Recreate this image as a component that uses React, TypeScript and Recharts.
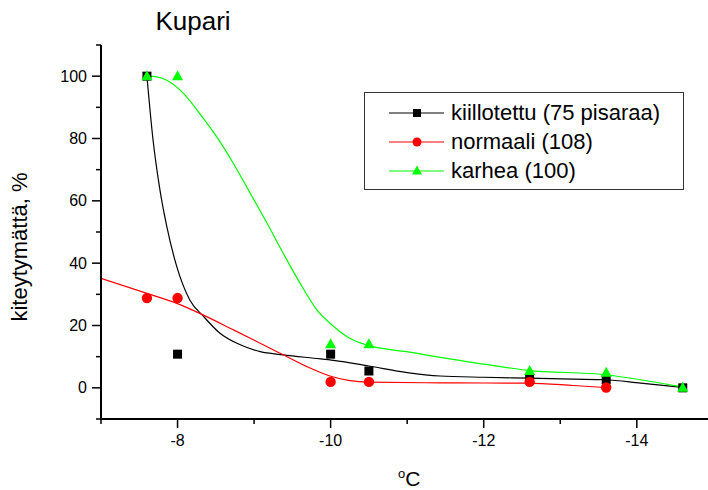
import React from "react";
import {
    ComposedChart,
    Line,
    Scatter,
    XAxis,
    YAxis,
} from "recharts";

const FONT = '"Liberation Sans", Arial, sans-serif';

// measured temperatures (°C)
const pointTemps = [-7.6, -8, -10, -10.5, -12.6, -13.6, -14.6];
const kiillotettuVals = [100, 10.8, 10.8, 5.4, 2.9, 2.6, 0];
const normaaliTemps = [-7.6, -8, -10, -10.5, -12.6, -13.6];
const normaaliVals = [28.8, 28.8, 1.9, 1.9, 1.9, 0.1];
const karheaVals = [100, 100, 14, 14, 5.4, 4.8, 0];

// fitted curves
const kiillotettuCurveT = [-7.6, -7.68, -7.77, -7.86, -7.99, -8.16, -8.34, -8.55, -8.82, -9.08, -9.38, -9.78, -10.04, -10.5, -11.0, -11.43, -12.0, -12.6, -13.17, -13.59, -14.05, -14.57];
const kiillotettuCurveV = [100, 79.5, 63.5, 51.7, 38.9, 28.2, 22.9, 17.6, 13.8, 11.6, 10.6, 9.5, 8.8, 7.0, 4.9, 3.8, 3.4, 3.1, 2.8, 2.6, 1.5, 0.2];
const normaaliCurveT = [-7, -7.6, -7.99, -8.29, -8.73, -9.17, -9.38, -9.69, -9.99, -10.25, -10.49, -11.43, -12.58, -13.17, -13.59];
const normaaliCurveV = [35.1, 30.3, 27.1, 23.9, 18.6, 13.2, 10.6, 6.8, 3.8, 2.3, 1.8, 1.6, 1.5, 0.75, 0.1];
const karheaCurveT = [-7.6, -7.73, -7.86, -8.08, -8.29, -8.51, -8.73, -8.95, -9.17, -9.38, -9.6, -9.82, -10.04, -10.25, -10.49, -10.99, -12.0, -12.58, -13.59, -14.05, -14.57];
const karheaCurveV = [100, 99.8, 98.7, 94.4, 88, 80.6, 72, 62.4, 52.8, 43.2, 33.6, 25, 19.7, 15.9, 13.6, 11.6, 7.6, 5.6, 4.2, 2.6, 0.4];

const xTicks = [-14, -13, -12, -11, -10, -9, -8, -7];
const yTicks = [-10, 0, 10, 20, 30, 40, 50, 60, 70, 80, 90, 100, 110];

const seriesNames = ["kiillotettu (75 pisaraa)", "normaali (108)", "karhea (100)"];
const seriesColors = ["#000000", "#ff0000", "#00ff00"];

const pairs = (t: number[], v: number[]) => t.map((x, i) => ({ x, y: v[i] }));

const Square = (p: any) => <rect x={p.cx - 4.5} y={p.cy - 4.5} width={9} height={9} fill="#000" />;
const Dot = (p: any) => <circle cx={p.cx} cy={p.cy} r={5.2} fill="#ff0000" />;
const Tri = (p: any) => (
    <polygon
        points={`${p.cx},${p.cy - 6} ${p.cx - 5.5},${p.cy + 4} ${p.cx + 5.5},${p.cy + 4}`}
        fill="#00ff00"
    />
);

const XTick = ({ x, y, payload }: any) => {
    const major = payload.value % 2 === 0;
    return (
        <g>
            <line x1={x} x2={x} y1={y} y2={y + (major ? 9 : 5)} stroke="#000" strokeWidth={1.5} />
            {major && (
                <text x={x} y={y + 27} textAnchor="middle" fontSize={16} fontFamily={FONT} fill="#000">
                    {String(payload.value)}
                </text>
            )}
        </g>
    );
};

const YTick = ({ x, y, payload }: any) => {
    const major = payload.value % 20 === 0;
    return (
        <g>
            <line x1={x - (major ? 9 : 5)} x2={x} y1={y} y2={y} stroke="#000" strokeWidth={1.5} />
            {major && (
                <text x={x - 14} y={y + 5.5} textAnchor="end" fontSize={16} fontFamily={FONT} fill="#000">
                    {String(payload.value)}
                </text>
            )}
        </g>
    );
};

const LegendBox = () => (
    <div
        style={{
            position: "absolute",
            left: 364,
            top: 92,
            width: 318,
            height: 96,
            border: "1px solid #333",
            background: "#fff",
            fontFamily: FONT,
            fontSize: 22,
        }}
    >
        {seriesNames.map((name, i) => {
            const cy = 20 + i * 29;
            return (
                <div key={name} style={{ position: "absolute", left: 0, top: cy - 14, height: 28, display: "flex", alignItems: "center" }}>
                    <svg width={86} height={28}>
                        <line x1={24} x2={79} y1={14} y2={14} stroke={seriesColors[i]} strokeWidth={1} />
                        {i === 0 && <rect x={48} y={10} width={8} height={8} fill="#000" />}
                        {i === 1 && <circle cx={52} cy={14} r={4.5} fill="#ff0000" />}
                        {i === 2 && <polygon points="52,8.5 47,17.5 57,17.5" fill="#00ff00" />}
                    </svg>
                    <span style={{ whiteSpace: "nowrap", lineHeight: "28px" }}>{name}</span>
                </div>
            );
        })}
    </div>
);

export default function App() {
    return (
        <div style={{ position: "absolute", left: 0, top: 0, width: 708, height: 490, background: "#fff" }}>
            <ComposedChart
                width={708}
                height={490}
                margin={{ top: 45, right: 0, left: 41, bottom: 31 }}
            >
                <XAxis
                    dataKey="x"
                    type="number"
                    domain={[-14.93, -7]}
                    reversed
                    allowDataOverflow
                    ticks={xTicks}
                    interval={0}
                    tickSize={0}
                    tickMargin={0}
                    tickLine={false}
                    tick={<XTick />}
                    height={40}
                    axisLine={{ stroke: "#000", strokeWidth: 2 }}
                />
                <YAxis
                    type="number"
                    domain={[-10, 110]}
                    ticks={yTicks}
                    interval={0}
                    tickSize={0}
                    tickMargin={0}
                    tickLine={false}
                    tick={<YTick />}
                    width={60}
                    axisLine={{ stroke: "#000", strokeWidth: 2 }}
                />
                <Line data={pairs(kiillotettuCurveT, kiillotettuCurveV)} dataKey="y" type="monotone" stroke="#000" strokeWidth={1.2} dot={false} isAnimationActive={false} />
                <Line data={pairs(normaaliCurveT, normaaliCurveV)} dataKey="y" type="monotone" stroke="#ff0000" strokeWidth={1.2} dot={false} isAnimationActive={false} />
                <Line data={pairs(karheaCurveT, karheaCurveV)} dataKey="y" type="monotone" stroke="#00ff00" strokeWidth={1.2} dot={false} isAnimationActive={false} />
                <Scatter data={pairs(pointTemps, kiillotettuVals)} dataKey="y" shape={Square} isAnimationActive={false} />
                <Scatter data={pairs(normaaliTemps, normaaliVals)} dataKey="y" shape={Dot} isAnimationActive={false} />
                <Scatter data={pairs(pointTemps, karheaVals)} dataKey="y" shape={Tri} isAnimationActive={false} />
            </ComposedChart>
            <LegendBox />
            <div style={{ position: "absolute", left: 193, top: 6, transform: "translateX(-50%)", fontFamily: FONT, fontSize: 26, whiteSpace: "nowrap" }}>
                Kupari
            </div>
            <div
                style={{
                    position: "absolute",
                    left: 20,
                    top: 247,
                    transform: "translate(-50%, -50%) rotate(-90deg)",
                    fontFamily: FONT,
                    fontSize: 22,
                    whiteSpace: "nowrap",
                }}
            >
                kiteytymättä, %
            </div>
            <div style={{ position: "absolute", left: 398, top: 466, fontFamily: FONT, fontSize: 21, whiteSpace: "nowrap" }}>
                <sup style={{ fontSize: 13 }}>o</sup>C
            </div>
        </div>
    );
}
